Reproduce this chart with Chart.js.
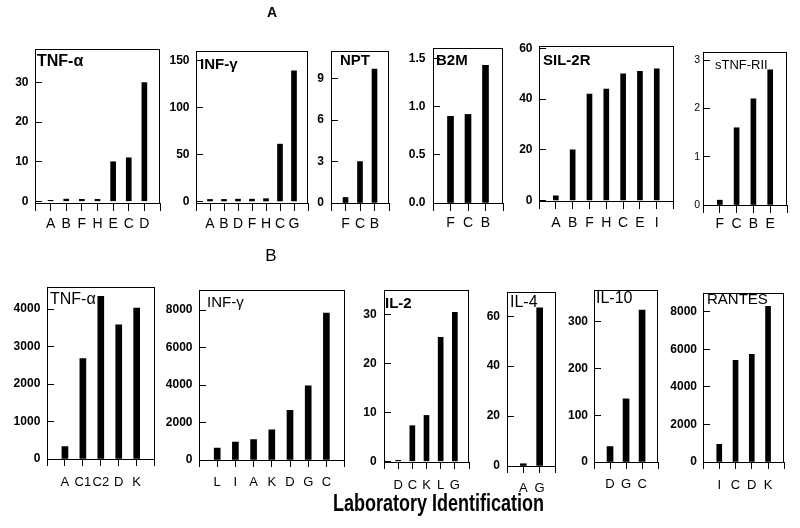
<!DOCTYPE html>
<html><head><meta charset="utf-8">
<script src="https://cdn.jsdelivr.net/npm/chart.js@4.4.1/dist/chart.umd.min.js"></script>
<style>
html,body{margin:0;padding:0;background:#fff;}
#wrap{position:relative;width:800px;height:528px;overflow:hidden;font-family:"Liberation Sans",Arial,sans-serif;color:#000;background:#fff;}
canvas{position:absolute;}
.t{position:absolute;white-space:nowrap;line-height:1;color:#000;}
</style></head><body><div id="wrap"></div>
<script>
// ---------- DATA ----------
// Panel A
const aTnfCats = ['A','B','F','H','E','C','D'];
const aTnfVals = [0.25,0.55,0.5,0.5,10,11,30];
const aTnfTicks = ['0','10','20','30'];

const aInfCats = ['A','B','D','F','H','C','G'];
const aInfVals = [2.2,2.2,2.5,2.5,3,61,139];
const aInfTicks = ['0','50','100','150'];

const aNptCats = ['F','C','B'];
const aNptVals = [0.4,3.0,9.7];
const aNptTicks = ['0','3','6','9'];

const aB2mCats = ['F','C','B'];
const aB2mVals = [0.90,0.92,1.43];
const aB2mTicks = ['0.0','0.5','1.0','1.5'];

const aSil2rCats = ['A','B','F','H','C','E','I'];
const aSil2rVals = [1.8,20,42,44,50,51,52];
const aSil2rTicks = ['0','20','40','60'];

const aStnfCats = ['F','C','B','E'];
const aStnfVals = [0.1,1.6,2.2,2.8];
const aStnfTicks = ['0','1','2','3'];

// Panel B
const bTnfCats = ['A','C1','C2','D','K'];
const bTnfVals = [330,2675,4335,3580,4025];
const bTnfTicks = ['0','1000','2000','3000','4000'];

const bInfCats = ['L','I','A','K','D','G','C'];
const bInfVals = [630,960,1090,1610,2650,3950,7830];
const bInfTicks = ['0','2000','4000','6000','8000'];

const bIl2Cats = ['D','C','K','L','G'];
const bIl2Vals = [0.2,7.3,9.4,25.4,30.5];
const bIl2Ticks = ['0','10','20','30'];

const bIl4Cats = ['A','G'];
const bIl4Vals = [0.9,63.4];
const bIl4Ticks = ['0','20','40','60'];

const bIl10Cats = ['D','G','C'];
const bIl10Vals = [33,135,325];
const bIl10Ticks = ['0','100','200','300'];

const bRantesCats = ['I','C','D','K'];
const bRantesVals = [940,5410,5730,8280];
const bRantesTicks = ['0','2000','4000','6000','8000'];

// ---------- LAYOUT ----------
const FONT = '"Liberation Sans", Arial, sans-serif';
const panels = [
  {title:'TNF-\u03b1', cats:aTnfCats, vals:aTnfVals, ticks:aTnfTicks, min:-0.43, max:38.5, f:[35,49,160,203], bar:5, xtl:8, xfs:14, xc:224.3, yfs:12, yb:'bold', gap:6.5, tx:37, tc:55, tfs:16, tb:'bold'},
  {title:'INF-\u03b3', cats:aInfCats, vals:aInfVals, ticks:aInfTicks, min:-1.6, max:160, f:[196,51,308,203], bar:5, xtl:8, xfs:14, xc:224.3, yfs:12, yb:'bold', gap:6.5, tx:200, tc:58, tfs:15, tb:'bold'},
  {title:'NPT', cats:aNptCats, vals:aNptVals, ticks:aNptTicks, min:0, max:11, f:[331,51,389,203], bar:5, xtl:8, xfs:14, xc:223.7, yfs:12, yb:'bold', gap:7, tx:340, tc:54, tfs:15, tb:'bold'},
  {title:'B2M', cats:aB2mCats, vals:aB2mVals, ticks:aB2mTicks, min:0, max:1.61, f:[433,48,503,203], bar:6, xtl:8, xfs:14, xc:222.8, yfs:12, yb:'bold', gap:7.5, tx:436, tc:54, tfs:15, tb:'bold'},
  {title:'SIL-2R', cats:aSil2rCats, vals:aSil2rVals, ticks:aSil2rTicks, min:-0.2, max:61, f:[539,46,674,201], bar:5, xtl:8, xfs:14, xc:222.8, yfs:12, yb:'bold', gap:6.5, tx:543, tc:54, tfs:15, tb:'bold'},
  {title:'sTNF-RII', cats:aStnfCats, vals:aStnfVals, ticks:aStnfTicks, min:0, max:3.17, f:[703,52,787,205], bar:5, xtl:8, xfs:14, xc:224, yfs:10.5, yb:'normal', gap:3, tx:715, tc:59.5, tfs:13, tb:'normal'},
  {title:'TNF-\u03b1', cats:bTnfCats, vals:bTnfVals, ticks:bTnfTicks, min:0, max:4587, f:[47,287,158,459], bar:6, xtl:7, xfs:13, xc:482.2, yfs:12, yb:'bold', gap:6.7, tx:50, tc:293, tfs:16, tb:'normal'},
  {title:'INF-\u03b3', cats:bInfCats, vals:bInfVals, ticks:bInfTicks, min:0, max:9067, f:[199,290,347,460], bar:6, xtl:7, xfs:13, xc:482.2, yfs:12, yb:'bold', gap:6.5, tx:207, tc:296, tfs:15, tb:'normal'},
  {title:'IL-2', cats:bIl2Cats, vals:bIl2Vals, ticks:bIl2Ticks, min:-0.14, max:35.1, f:[384,290,473,462], bar:5, xtl:7, xfs:13, xc:485.8, yfs:12, yb:'bold', gap:7.3, tx:385, tc:297, tfs:15, tb:'bold'},
  {title:'IL-4', cats:bIl4Cats, vals:bIl4Vals, ticks:bIl4Ticks, min:0, max:69.7, f:[507,292,559,466], bar:6, xtl:7, xfs:13, xc:488.8, yfs:12, yb:'bold', gap:7, tx:510, tc:296, tfs:16, tb:'normal'},
  {title:'IL-10', cats:bIl10Cats, vals:bIl10Vals, ticks:bIl10Ticks, min:0, max:367.7, f:[594,290,661,462], bar:6, xtl:7, xfs:13, xc:484.7, yfs:12, yb:'bold', gap:6, tx:596, tc:292, tfs:16, tb:'normal'},
  {title:'RANTES', cats:bRantesCats, vals:bRantesVals, ticks:bRantesTicks, min:0, max:8989, f:[703,293,788,462], bar:5, xtl:7, xfs:13, xc:485.5, yfs:12, yb:'bold', gap:6, tx:707, tc:293, tfs:15, tb:'normal'}
];

const wrap = document.getElementById('wrap');
const YW = 50, PT = 30, PR = 5, XH = 40, TIN = 7;

const framePlugin = {
  id:'frame',
  afterDraw(chart){
    const {ctx, chartArea:a} = chart;
    ctx.save();
    ctx.strokeStyle = '#000';
    ctx.lineWidth = 1;
    ctx.strokeRect(Math.round(a.left)+0.5, Math.round(a.top)+0.5, Math.round(a.right-a.left)-1, Math.round(a.bottom-a.top));
    ctx.restore();
  }
};

function addText(txt, left, capTop, fs, weight, center){
  const d = document.createElement('div');
  d.className = 't';
  d.textContent = txt;
  d.style.fontSize = fs + 'px';
  d.style.fontWeight = weight;
  d.style.top = (capTop - 0.13*fs) + 'px';
  d.style.left = left + 'px';
  if (center) d.style.transform = 'translateX(-50%)';
  wrap.appendChild(d);
  return d;
}

panels.forEach(p => {
  const [l,t,r,b] = p.f;
  const c = document.createElement('canvas');
  const W = (r-l) + YW + PR, H = (b-t) + PT + XH;
  c.width = W; c.height = H;
  c.style.left = (l - YW) + 'px';
  c.style.top = (t - PT) + 'px';
  c.style.width = W + 'px'; c.style.height = H + 'px';
  wrap.appendChild(c);
  const xlh = p.xfs * 1.2;
  const xpad = p.xc - b - p.xtl - xlh/2;
  new Chart(c, {
    type:'bar',
    data:{
      labels:['', ...p.cats, ''],
      datasets:[{data:[null, ...p.vals, null], backgroundColor:'#000', borderWidth:0, barThickness:p.bar}]
    },
    options:{
      responsive:false, animation:false, devicePixelRatio:1,
      layout:{padding:{left:0, top:PT, right:PR, bottom:0}},
      plugins:{legend:{display:false}, tooltip:{enabled:false}, title:{display:false}},
      scales:{
        x:{
          type:'category', offset:false,
          grid:{offset:false, drawOnChartArea:false, drawTicks:true, tickLength:p.xtl, color:'#000', lineWidth:1},
          border:{display:false},
          ticks:{autoSkip:false, maxRotation:0, minRotation:0, padding:xpad, color:'#000', font:{family:FONT, size:p.xfs}},
          afterFit(s){ s.height = XH; }
        },
        y:{
          type:'linear', min:p.min, max:p.max,
          grid:{drawOnChartArea:false, drawTicks:true, tickLength:-TIN, color:'#000', lineWidth:1},
          border:{display:false},
          afterBuildTicks(s){ s.ticks = p.ticks.map(v => ({value:parseFloat(v)})); },
          ticks:{padding:p.gap + TIN, color:'#000', font:{family:FONT, size:p.yfs, weight:p.yb},
                 callback:(v,i) => p.ticks[i]},
          afterFit(s){ s.width = YW; }
        }
      }
    },
    plugins:[framePlugin]
  });
  addText(p.title, p.tx, p.tc, p.tfs, p.tb, false);
});

addText('A', 272, 7.3, 14, 'bold', true);
addText('B', 271, 249, 17, 'normal', true);
const lab = addText('Laboratory Identification', 333, 494.3, 24, 'bold', false);
const w0 = lab.getBoundingClientRect().width;
lab.style.transformOrigin = 'left top';
lab.style.transform = 'scaleX(' + (211 / w0) + ')';
</script></body></html>
